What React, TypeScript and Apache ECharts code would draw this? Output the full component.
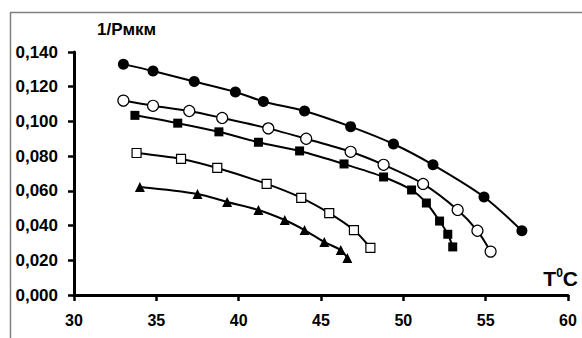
import React, { useEffect, useRef } from "react";
import * as echarts from "echarts";

// Temperature (°C) and 1/Rmkm values per curve
const s1X = [33.0, 34.8, 37.3, 39.8, 41.5, 44.0, 46.8, 49.4, 51.8, 54.9, 57.2];
const s1Y = [0.133, 0.129, 0.123, 0.117, 0.1115, 0.106, 0.097, 0.087, 0.075, 0.0565, 0.037];

const s2X = [33.0, 34.8, 37.0, 39.0, 41.8, 44.1, 46.8, 48.8, 51.2, 53.3, 54.5, 55.3];
const s2Y = [0.112, 0.109, 0.106, 0.102, 0.096, 0.09, 0.0825, 0.075, 0.064, 0.049, 0.037, 0.025];

const s3X = [33.7, 36.3, 38.8, 41.2, 43.7, 46.4, 48.8, 50.5, 51.4, 52.2, 52.7, 53.0];
const s3Y = [0.1035, 0.099, 0.094, 0.088, 0.083, 0.0755, 0.068, 0.0605, 0.053, 0.0426, 0.035, 0.0277];

const s4X = [33.8, 36.5, 38.7, 41.7, 43.8, 45.5, 47.0, 48.0];
const s4Y = [0.0818, 0.0784, 0.0732, 0.064, 0.056, 0.0472, 0.0374, 0.0271];

const s5X = [34.0, 37.5, 39.3, 41.2, 42.8, 44.0, 45.2, 46.2, 46.6];
const s5Y = [0.0622, 0.0582, 0.0536, 0.049, 0.0432, 0.0374, 0.0305, 0.0259, 0.0213];

const xTicks = { min: 30, max: 60, interval: 5 };
const yTicks = { min: 0, max: 0.14, interval: 0.02 };

const yName = "1/Рмкм";

const zip = (xs: number[], ys: number[]) => xs.map((x, i) => [x, ys[i]]);

export default function App() {
  const ref = useRef<HTMLDivElement>(null);

  useEffect(() => {
    if (!ref.current) return;
    const chart = echarts.init(ref.current, null, { renderer: "svg" });
    const font = "'Liberation Sans', Arial, sans-serif";

    const mkSeries = (
      name: string,
      xs: number[],
      ys: number[],
      symbol: string,
      size: number,
      filled: boolean
    ) => ({
      name,
      type: "line",
      data: zip(xs, ys),
      smooth: 0.3,
      symbol,
      symbolSize: size,
      showSymbol: true,
      lineStyle: { color: "#000", width: 2 },
      itemStyle: {
        color: filled ? "#000" : "#fff",
        borderColor: "#000",
        borderWidth: filled ? 0 : 1.2,
      },
      z: 3,
    });

    chart.setOption({
      animation: false,
      backgroundColor: "#fff",
      textStyle: { fontFamily: font },
      grid: { left: 74, top: 52, right: 14, bottom: 43, containLabel: false },
      graphic: [
        {
          type: "rect",
          shape: { x: 10.5, y: 12.5, width: 700, height: 500 },
          style: { fill: "none", stroke: "#808080", lineWidth: 1.5 },
          silent: true,
          z: 0,
        },
      ],
      xAxis: {
        type: "value",
        min: xTicks.min,
        max: xTicks.max,
        interval: xTicks.interval,
        splitLine: { show: false },
        axisLine: { lineStyle: { color: "#000", width: 3 } },
        axisTick: { show: true, length: 6, lineStyle: { color: "#000", width: 2.5 } },
        axisLabel: {
          color: "#000",
          fontWeight: "bold",
          fontSize: 16,
          fontFamily: font,
          margin: 17,
        },
        name: "{a|T}{b|0}{a|C}",
        nameLocation: "end",
        nameGap: 10,
        nameTextStyle: {
          align: "right",
          verticalAlign: "bottom",
          padding: [0, 0, 6, 0],
          rich: {
            a: { fontSize: 21, fontWeight: "bold", color: "#000", fontFamily: font },
            b: {
              fontSize: 12,
              fontWeight: "bold",
              color: "#000",
              fontFamily: font,
              verticalAlign: "top",
              padding: [0, 0, 10, 0],
            },
          },
        },
      },
      yAxis: {
        type: "value",
        min: yTicks.min,
        max: yTicks.max,
        interval: yTicks.interval,
        splitLine: { show: false },
        axisLine: { lineStyle: { color: "#000", width: 3 } },
        axisTick: { show: true, length: 6, lineStyle: { color: "#000", width: 2.5 } },
        axisLabel: {
          color: "#000",
          fontWeight: "bold",
          fontSize: 17,
          fontFamily: font,
          margin: 16,
          formatter: (v: number) => v.toFixed(3).replace(".", ","),
        },
        name: yName,
        nameLocation: "end",
        nameGap: 14,
        nameTextStyle: {
          align: "left",
          verticalAlign: "bottom",
          padding: [0, 0, 0, 23],
          fontSize: 17,
          fontWeight: "bold",
          color: "#000",
          fontFamily: font,
        },
      },
      series: [
        mkSeries("s1", s1X, s1Y, "circle", 11, true),
        mkSeries("s2", s2X, s2Y, "circle", 11, false),
        mkSeries("s3", s3X, s3Y, "rect", 9, true),
        mkSeries("s4", s4X, s4Y, "rect", 9, false),
        mkSeries("s5", s5X, s5Y, "triangle", 10, true),
      ],
    });

    return () => chart.dispose();
  }, []);

  return (
    <div
      ref={ref}
      style={{ position: "absolute", left: 0, top: 0, width: 582, height: 338 }}
    />
  );
}
